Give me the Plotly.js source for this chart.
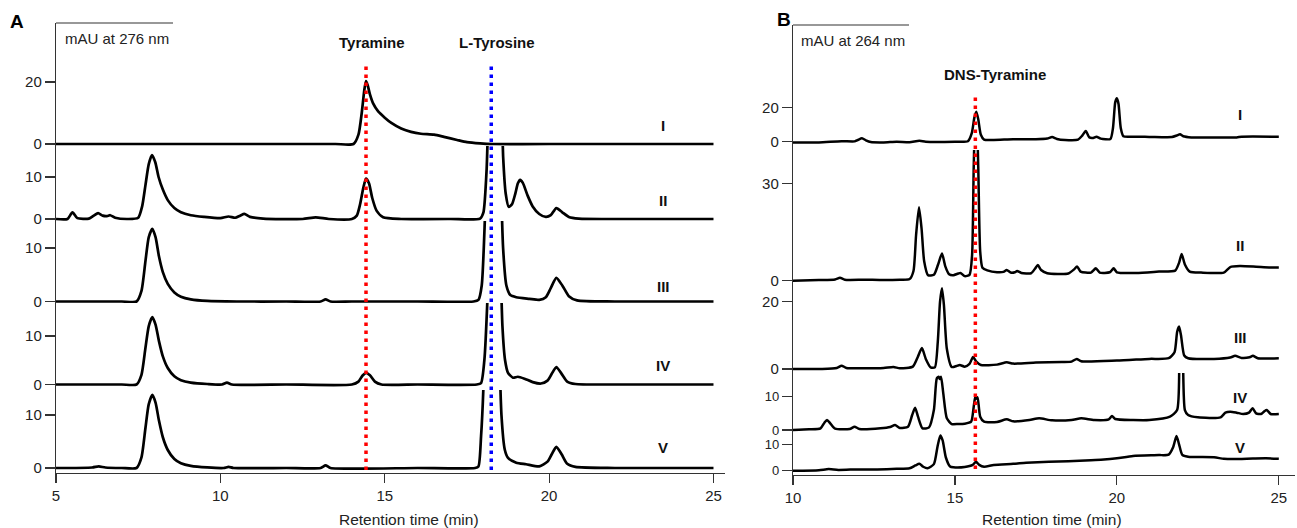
<!DOCTYPE html>
<html><head><meta charset="utf-8">
<script src="https://cdn.plot.ly/plotly-3.0.1.min.js"></script>
<style>html,body{margin:0;padding:0;background:#fff}#chart{width:1297px;height:528px}</style>
</head><body><div id="chart"></div>
<script>
// ---------------- DATA (retention time [min], absorbance [mAU]) ----------------
const sampleLabels = ['I', 'II', 'III', 'IV', 'V'];
const xTicksA = [5, 10, 15, 20, 25];
const xTicksB = [10, 15, 20, 25];
const yTicksA = [[0, 20], [0, 10], [0, 10], [0, 10], [0, 10]];
const yTicksB = [[0, 20], [0, 30], [0, 20], [0, 10], [0, 10]];
const markerA = {Tyramine: 14.43, 'L-Tyrosine': 18.24};
const markerB = {'DNS-Tyramine': 15.63};

// Panel A : 276 nm
const A_I = [[5,0],[6,0],[8,0],[10,0],[12,0],[13.5,0],[14.05,0],[14.2,3],[14.3,10],[14.38,17.5],[14.43,20.3],[14.48,19],[14.55,16],[14.65,13],[14.8,10.5],[15.0,8.5],[15.2,6.8],[15.5,5],[15.8,3.9],[16.1,3.3],[16.5,3.0],[16.8,2.3],[17.2,1.3],[17.5,0.6],[17.9,0.2],[18.3,0],[20,0],[22,0],[25,0]];
const A_II = [[5,0],[5.35,0],[5.5,1.6],[5.65,0.2],[6.0,0.1],[6.15,0.8],[6.28,1.4],[6.42,0.8],[6.55,0.7],[6.65,0.9],[6.8,0.3],[7.2,0],[7.5,0.3],[7.62,3],[7.72,8],[7.82,13],[7.92,15.2],[8.02,13.5],[8.12,10],[8.25,7],[8.4,4.5],[8.6,2.6],[8.8,1.6],[9.1,0.9],[9.5,0.5],[10.0,0.2],[10.25,0.6],[10.45,0.3],[10.6,0.8],[10.73,1.2],[10.9,0.5],[11.3,0.1],[12.5,0],[12.9,0.4],[13.3,0],[14.0,0],[14.15,0.8],[14.25,3.5],[14.35,7.5],[14.43,9.6],[14.52,8.5],[14.62,5],[14.75,2],[14.95,0.4],[15.5,0],[17.0,0],[17.9,0.1],[18.0,1.5],[18.1,12],[18.2,40],[18.35,60],[18.5,40],[18.6,15],[18.68,6],[18.77,2.9],[18.87,3.5],[18.97,6],[19.05,8.5],[19.12,9.3],[19.2,8.6],[19.35,5.5],[19.5,3],[19.7,1.2],[19.9,0.5],[20.05,0.9],[20.22,2.6],[20.4,1.6],[20.6,0.5],[20.9,0.1],[22,0],[25,0]];
const A_III = [[5,0],[6,0],[7,0],[7.45,0],[7.6,2],[7.72,7.5],[7.82,12],[7.93,13.6],[8.03,12],[8.13,8.5],[8.25,5.5],[8.4,3.3],[8.6,1.7],[8.8,0.9],[9.1,0.4],[9.6,0.1],[10.5,0],[12,0],[13.05,0],[13.2,0.4],[13.35,0],[14,0],[16,0],[17.7,0],[17.85,0.3],[17.95,3],[18.05,16],[18.2,45],[18.35,60],[18.5,30],[18.6,10],[18.7,3],[18.82,1.2],[19.0,0.8],[19.4,0.5],[19.7,0.3],[19.9,0.8],[20.05,2.5],[20.22,4.4],[20.4,3.0],[20.6,1.0],[20.85,0.2],[22,0],[25,0]];
const A_IV = [[5,0],[6,0],[7,0],[7.45,0],[7.6,2],[7.72,7.5],[7.82,12],[7.93,13.9],[8.03,12.3],[8.13,9],[8.25,5.8],[8.4,3.4],[8.6,1.7],[8.8,0.9],[9.1,0.4],[9.6,0.1],[10.05,0],[10.2,0.4],[10.35,0],[12,0],[14.0,0],[14.2,0.6],[14.32,1.8],[14.43,2.4],[14.55,1.9],[14.7,0.6],[14.9,0],[16,0],[17.8,0],[17.93,0.3],[18.03,5],[18.12,17],[18.25,45],[18.4,45],[18.5,30],[18.58,12],[18.66,5],[18.75,2.4],[18.9,1.4],[19.05,1.6],[19.25,1.2],[19.5,0.5],[19.75,0.2],[19.95,0.8],[20.08,2.2],[20.22,3.6],[20.38,2.2],[20.55,0.6],[20.8,0.1],[22,0],[25,0]];
const A_V = [[5,0],[6.1,0.1],[6.3,0.3],[6.5,0.1],[7,0],[7.45,0],[7.6,2],[7.72,7.5],[7.82,12],[7.93,13.8],[8.03,12.3],[8.13,9],[8.25,5.8],[8.4,3.4],[8.6,1.7],[8.8,0.9],[9.1,0.4],[9.6,0.1],[10.1,0],[10.25,0.2],[10.4,0],[12,0],[13.05,0],[13.2,0.5],[13.35,0],[16,0],[17.75,0],[17.85,0.3],[17.93,6],[18.0,15],[18.1,40],[18.3,60],[18.45,30],[18.55,10],[18.65,3.5],[18.75,1.9],[19.0,1.0],[19.3,0.7],[19.7,0.3],[19.95,1.2],[20.08,2.6],[20.22,4.0],[20.38,2.6],[20.55,0.8],[20.8,0.2],[22,0],[25,0]];

// Panel B : 264 nm
const B_I = [[10,-0.5],[10.8,-0.4],[11.5,0.3],[11.9,0.2],[12.0,1.0],[12.13,2.0],[12.25,0.8],[12.4,-0.2],[12.8,-0.4],[13.2,0],[13.6,-0.3],[13.9,0.5],[14.1,0],[15.0,0],[15.4,0.3],[15.52,5],[15.6,14],[15.66,17.4],[15.72,13],[15.8,4],[15.9,1.2],[16.2,1],[16.8,1.4],[17.5,1.4],[17.85,1.8],[18.0,2.7],[18.15,1.6],[18.4,1.0],[18.8,1.2],[18.93,3.5],[19.04,6.2],[19.15,2.5],[19.27,2.2],[19.37,2.9],[19.5,1.8],[19.8,1.6],[19.88,8],[19.95,23],[20.0,25.2],[20.05,22],[20.12,8],[20.2,3.2],[20.4,2.9],[21.0,2.8],[21.7,2.7],[21.85,3.6],[21.95,4.3],[22.05,3.2],[22.3,2.5],[23.0,2.4],[23.7,2.5],[23.85,2.9],[25,2.9]];
const B_II = [[10,0],[10.8,0.2],[11.3,0.4],[11.45,0.9],[11.6,0.3],[12.2,0.3],[12.8,0.2],[13.3,0.3],[13.6,0.5],[13.72,3],[13.8,14],[13.89,22.6],[13.97,16],[14.05,6],[14.17,1.7],[14.35,1.8],[14.48,5],[14.6,8.4],[14.7,4.5],[14.82,2],[14.95,1.7],[15.1,2.2],[15.17,2.4],[15.3,1.4],[15.45,1.8],[15.53,8],[15.58,35],[15.65,60],[15.72,35],[15.78,9],[15.85,4],[16.0,3.2],[16.3,2.6],[16.5,2.7],[16.6,3.3],[16.72,2.5],[16.85,2.6],[16.92,3.0],[17.05,2.4],[17.35,2.3],[17.48,3.8],[17.56,4.8],[17.66,3.3],[17.85,2.3],[18.5,2.2],[18.68,3.5],[18.77,4.4],[18.88,2.8],[19.2,2.5],[19.35,3.8],[19.47,2.5],[19.78,2.6],[19.9,3.8],[20.0,2.6],[20.6,2.4],[21.3,2.8],[21.8,3.1],[21.92,5.5],[22.0,8.2],[22.1,5],[22.25,2.8],[22.6,2.5],[23.3,2.5],[23.5,4.2],[23.8,4.5],[24.3,4.3],[24.7,4.1],[25,4.1]];
const B_III = [[10,0],[10.9,0],[11.35,0.3],[11.5,1.0],[11.65,0.3],[12.2,0.2],[12.8,0.3],[13.1,0.6],[13.3,0.2],[13.7,0.7],[13.85,3.5],[13.98,6.2],[14.1,3],[14.25,0.5],[14.38,0.5],[14.47,8],[14.54,20],[14.6,24],[14.66,19],[14.75,6],[14.9,0.6],[15.05,0.9],[15.15,1.2],[15.3,0.7],[15.45,1.5],[15.56,3.6],[15.66,2.2],[15.8,1.2],[16.3,1.3],[16.6,2.0],[16.8,1.6],[17.5,1.9],[18.3,2.1],[18.6,2.2],[18.76,3.0],[18.9,2.3],[20,2.5],[21.0,3.0],[21.6,3.2],[21.78,5],[21.86,11],[21.92,12.6],[21.98,10],[22.08,4],[22.2,3.2],[23.0,3.0],[23.5,3.4],[23.65,3.9],[23.85,3.3],[24.1,3.5],[24.2,3.9],[24.35,3.2],[25,3.2]];
const B_IV = [[10,0],[10.5,0.2],[10.85,0.5],[10.97,2.2],[11.05,3.0],[11.15,2.0],[11.3,0.4],[11.75,0.3],[11.9,1.0],[12.05,0.3],[12.7,0.5],[13.0,0.9],[13.15,1.5],[13.3,0.6],[13.55,1.0],[13.68,4.5],[13.77,6.7],[13.86,4],[14.0,0.5],[14.2,0.8],[14.35,6],[14.44,15.5],[14.5,16],[14.53,15.3],[14.57,16],[14.64,11],[14.75,3.5],[14.9,1.8],[15.1,1.8],[15.3,1.9],[15.5,2.5],[15.58,7],[15.63,10],[15.67,9.4],[15.7,9.8],[15.78,4],[15.9,2.5],[16.3,2.4],[16.6,3.2],[16.8,2.6],[17.3,3.0],[17.6,3.5],[18.0,2.9],[18.6,3.0],[18.9,3.5],[19.3,3.0],[19.75,3.2],[19.85,4.2],[19.95,3.3],[20.5,3.0],[21.0,3.0],[21.64,4.0],[21.86,6],[21.93,22],[21.99,40],[22.04,22],[22.1,6],[22.2,4.5],[22.5,3.8],[23.2,3.8],[23.35,5.2],[23.5,5.5],[23.7,5.2],[23.9,4.8],[24.08,5.2],[24.19,6.5],[24.3,5],[24.45,4.8],[24.55,5.6],[24.63,6.0],[24.75,4.8],[25,4.8]];
const B_V = [[10,0],[10.8,0.2],[11.1,0.6],[11.4,0.3],[12.0,0.5],[12.6,0.5],[13.2,0.7],[13.6,0.9],[13.78,2.0],[13.9,2.6],[14.02,1.5],[14.15,0.9],[14.35,2.5],[14.46,9],[14.55,13.3],[14.62,11.5],[14.72,5],[14.85,1.6],[14.95,1.3],[15.3,1.4],[15.55,2.2],[15.65,3.4],[15.75,2.2],[15.9,1.5],[16.2,2.2],[16.8,2.6],[17.2,3.0],[17.9,3.4],[18.5,3.6],[19.2,4.0],[19.6,4.2],[20.0,4.7],[20.5,5.6],[21.3,5.9],[21.6,6.1],[21.74,9],[21.84,13.1],[21.92,10],[22.02,6],[22.2,5.3],[23.0,5.1],[23.3,4.5],[23.6,4.4],[24.2,4.6],[24.6,4.7],[25,4.5]];

const panelAData = [A_I, A_II, A_III, A_IV, A_V];
const panelBData = [B_I, B_II, B_III, B_IV, B_V];

// ---------------- LAYOUT ----------------
const W = 1297, H = 528;
const fx = px => px / W;
const fy = px => 1 - px / H;
const FONT = 'Liberation Sans, Arial, Helvetica, sans-serif';
const AXC = '#333';

// per-trace strip geometry: [top px, bottom px], zero-line px, px per mAU, tick font size
const stripsA = {dom: [[23,146],[146,221],[221,303],[303,390],[390,473]], zero: [144,219,301.5,384.5,468], ppu: [3.1,4.2,5.35,4.85,5.3], fs: [15,15,15,15,15]};
const stripsB = {dom: [[25,150],[150,284],[284,373],[373,433],[433,475]], zero: [141.7,280.7,369,430,470.7], ppu: [1.72,3.247,3.367,3.33,2.64], fs: [15,15,15,13,13]};

const traces = [];
const layout = {
  width: W, height: H, margin: {l: 0, r: 0, t: 0, b: 0},
  paper_bgcolor: '#fff', plot_bgcolor: 'rgba(0,0,0,0)',
  showlegend: false,
  font: {family: FONT, color: '#222', size: 15},
  shapes: [], annotations: []
};

function xAxis(domPx, range, tickvals, anchor) {
  return {domain: [fx(domPx[0]), fx(domPx[1])], range: range, anchor: anchor,
    tickmode: 'array', tickvals: tickvals, ticks: 'outside', ticklen: 9, tickwidth: 1.2, tickcolor: AXC,
    showline: true, linecolor: AXC, linewidth: 1.2, showgrid: false, zeroline: false,
    tickfont: {size: 15, family: FONT, color: '#222'}, fixedrange: true};
}
function yAxis(strips, i, tickvals, anchor) {
  const top = strips.dom[i][0], bot = strips.dom[i][1];
  const z = strips.zero[i], p = strips.ppu[i];
  return {domain: [fy(bot), fy(top)], range: [-(bot - z) / p, (z - top) / p], anchor: anchor,
    tickmode: 'array', tickvals: tickvals, ticks: 'outside', ticklen: 10, tickwidth: 1.2, tickcolor: AXC,
    showline: true, linecolor: AXC, linewidth: 1.2, showgrid: false, zeroline: false,
    tickfont: {size: strips.fs[i], family: FONT, color: '#222'}, fixedrange: true};
}

layout.xaxis = xAxis([56, 725], [5, 25.35], xTicksA, 'y5');
layout.xaxis2 = xAxis([793, 1295], [10, 25.5], xTicksB, 'y10');

panelAData.forEach((d, i) => {
  const n = i + 1;
  layout['yaxis' + (n === 1 ? '' : n)] = yAxis(stripsA, i, yTicksA[i], 'x');
  traces.push({type: 'scatter', mode: 'lines', name: 'A ' + sampleLabels[i],
    x: d.map(p => p[0]), y: d.map(p => p[1]), xaxis: 'x', yaxis: 'y' + (n === 1 ? '' : n),
    line: {color: '#000', width: 2.7, shape: 'spline', smoothing: 0.6}, hoverinfo: 'skip'});
});
panelBData.forEach((d, i) => {
  const n = i + 6;
  layout['yaxis' + n] = yAxis(stripsB, i, yTicksB[i], 'x2');
  traces.push({type: 'scatter', mode: 'lines', name: 'B ' + sampleLabels[i],
    x: d.map(p => p[0]), y: d.map(p => p[1]), xaxis: 'x2', yaxis: 'y' + n,
    line: {color: '#000', width: 2.5, shape: 'spline', smoothing: 0.6}, hoverinfo: 'skip'});
});

// axis top stubs
layout.shapes.push({type: 'line', xref: 'paper', yref: 'paper', x0: fx(56), x1: fx(173), y0: fy(23), y1: fy(23), line: {color: AXC, width: 1.2}});
layout.shapes.push({type: 'line', xref: 'paper', yref: 'paper', x0: fx(793), x1: fx(909), y0: fy(25), y1: fy(25), line: {color: AXC, width: 1.2}});
// reference retention-time lines
const dots = '3.5px,4.5px';
layout.shapes.push({type: 'line', xref: 'x', yref: 'paper', x0: markerA.Tyramine, x1: markerA.Tyramine, y0: fy(470), y1: fy(63), line: {color: '#ff0000', width: 3.5, dash: dots}});
layout.shapes.push({type: 'line', xref: 'x', yref: 'paper', x0: markerA['L-Tyrosine'], x1: markerA['L-Tyrosine'], y0: fy(470), y1: fy(63), line: {color: '#0000ff', width: 3.5, dash: dots}});
layout.shapes.push({type: 'line', xref: 'x2', yref: 'paper', x0: markerB['DNS-Tyramine'], x1: markerB['DNS-Tyramine'], y0: fy(469), y1: fy(93), line: {color: '#ff0000', width: 3.5, dash: dots}});

function ann(text, x, y, opts) {
  layout.annotations.push(Object.assign({text: text, x: fx(x), y: fy(y), xref: 'paper', yref: 'paper', showarrow: false,
    xanchor: 'center', yanchor: 'middle', font: {family: FONT, size: 15, color: '#111'}}, opts || {}));
}
// panel letters
ann('<b>A</b>', 17, 21, {font: {family: FONT, size: 19, color: '#000'}});
ann('<b>B</b>', 784, 20, {font: {family: FONT, size: 19, color: '#000'}});
// wavelength labels
ann('mAU at 276 nm', 63, 38, {xanchor: 'left', font: {family: FONT, size: 15, color: '#222'}});
ann('mAU at 264 nm', 799, 41, {xanchor: 'left', font: {family: FONT, size: 15, color: '#222'}});
// compound labels
ann('<b>Tyramine</b>', 372, 43);
ann('<b>L-Tyrosine</b>', 497, 43);
ann('<b>DNS-Tyramine</b>', 995, 74);
// sample labels
const labYA = [125, 200, 286, 365, 447];
const labYB = [115, 245, 337, 397, 447];
sampleLabels.forEach((s, i) => {
  ann('<b>' + s + '</b>', 663, labYA[i]);
  ann('<b>' + s + '</b>', 1240, labYB[i]);
});
// x-axis titles
ann('Retention time (min)', 409, 519, {font: {family: FONT, size: 15.5, color: '#222'}});
ann('Retention time (min)', 1052, 519, {font: {family: FONT, size: 15.5, color: '#222'}});

Plotly.newPlot('chart', traces, layout, {staticPlot: true, displayModeBar: false});
</script></body></html>
